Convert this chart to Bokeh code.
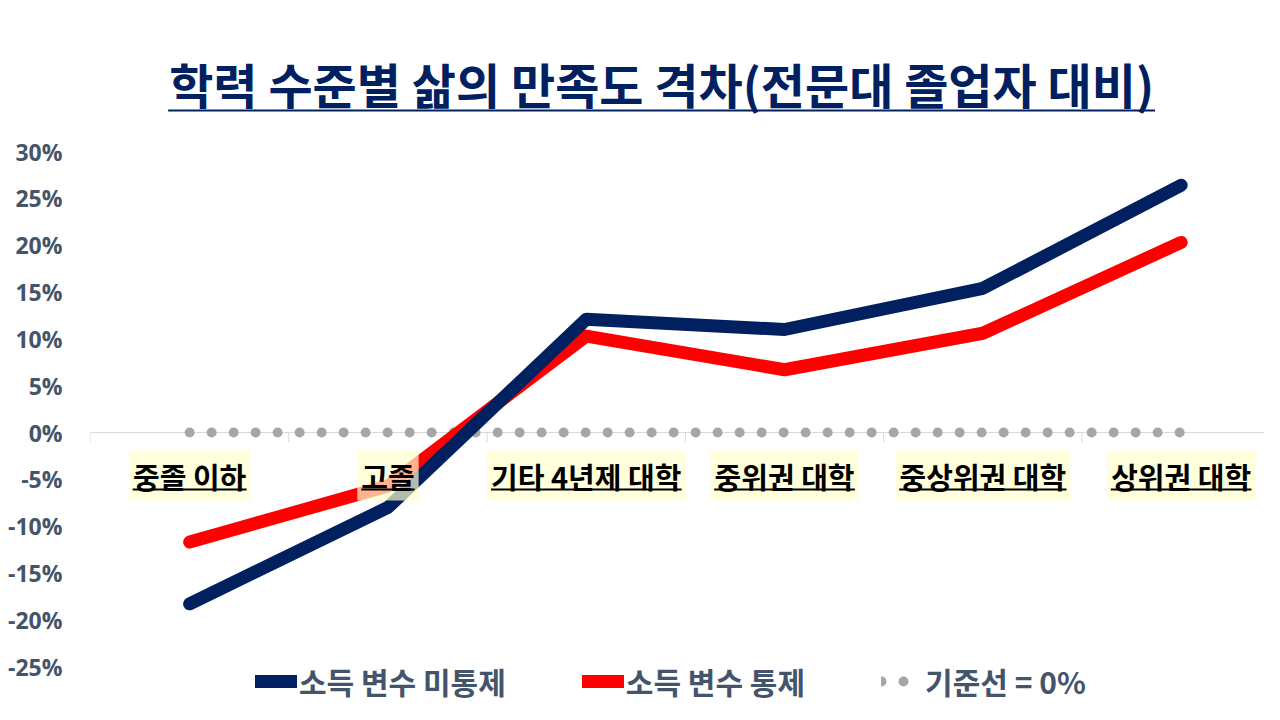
from bokeh.plotting import figure
from bokeh.models import (Range1d, FixedTicker, NumeralTickFormatter, Label,
                          Legend, LegendItem, ColumnDataSource)
from bokeh.embed import file_html
from bokeh.resources import INLINE

# ---- data ----
categories = ["중졸 이하", "고졸", "기타 4년제 대학", "중위권 대학", "중상위권 대학", "상위권 대학"]
uncontrolled = [-0.183, -0.080, 0.121, 0.110, 0.154, 0.264]
controlled = [-0.117, -0.057, 0.103, 0.067, 0.106, 0.203]
baseline = [0, 0, 0, 0, 0, 0]
y_ticks = [-0.25, -0.20, -0.15, -0.10, -0.05, 0.0, 0.05, 0.10, 0.15, 0.20, 0.25, 0.30]
title_text = "학력 수준별 삶의 만족도 격차(전문대 졸업자 대비)"
series_names = ["소득 변수 미통제", "소득 변수 통제", "기준선 = 0%"]

KFONT = "Noto Sans CJK KR"
NAVY = "#002060"
RED = "#ff0000"
GRAY = "#a6a6a6"
TICKC = "#44546a"

W, H = 1264, 704
ML = 90
px_x = 198.3               # pixels per category
XEND = (W - ML) / px_x
px_y = 515 / 0.55          # pixels per unit on the y scale
Y0 = 432                   # pixel row of the 0% line
YTOP = Y0 / px_y
YBOT = (Y0 - H) / px_y


def text_w(s, fs):
    w = 0.0
    for ch in s:
        if "\uac00" <= ch <= "\ud7a3":
            w += 0.92
        elif ch == " ":
            w += 0.25
        elif ch.isdigit():
            w += 0.55
        elif ch in "()":
            w += 0.33
        else:
            w += 0.6
    return w * fs


p = figure(width=W, height=H, output_backend="svg", toolbar_location=None,
           x_range=Range1d(0, XEND), y_range=Range1d(YBOT, YTOP),
           min_border_left=ML, min_border_right=0, min_border_top=0,
           min_border_bottom=0, outline_line_color=None)
p.xaxis.visible = False
p.grid.visible = False

yax = p.yaxis[0]
yax.ticker = FixedTicker(ticks=y_ticks)
yax.formatter = NumeralTickFormatter(format="0%")
yax.axis_line_color = None
yax.major_tick_line_color = None
yax.minor_tick_line_color = None
yax.major_label_standoff = 22
yax.major_label_text_font = "Open Sans"
yax.major_label_text_font_style = "bold"
yax.major_label_text_font_size = "23px"
yax.major_label_text_color = TICKC

xs = [i + 0.5 for i in range(len(categories))]

# zero axis line with category boundary ticks
p.line([0, XEND + 0.1], [0, 0], line_color="#d9d9d9", line_width=1)
bx = list(range(len(categories) + 1))
p.segment(x0=bx, y0=[0] * len(bx), x1=bx, y1=[-10 / px_y] * len(bx),
          line_color="#d9d9d9", line_width=1)

src = ColumnDataSource(dict(x=xs, a=uncontrolled, b=controlled, z=baseline))
r_base = p.line("x", "z", source=src, line_color=GRAY, line_width=10,
                line_dash="0 22", line_cap="round")
r_b = p.line("x", "b", source=src, line_color=RED, line_width=13,
             line_cap="round", line_join="round")
r_a = p.line("x", "a", source=src, line_color=NAVY, line_width=13,
             line_cap="round", line_join="round")

# category labels
LFS = 29
ly = -0.046
ux0, ux1, uy = [], [], []
for x, c in zip(xs, categories):
    p.add_layout(Label(x=x, y=ly, text=c, text_font=KFONT, text_font_style="bold",
                       text_font_size=f"{LFS}px", text_color="black",
                       text_align="center", text_baseline="middle",
                       background_fill_color="#ffffcc", background_fill_alpha=0.7,
                       padding=4))
    hw = text_w(c, LFS) / 2 / px_x
    ux0.append(x - hw)
    ux1.append(x + hw)
    uy.append(ly - 14 / px_y)
p.segment(x0=ux0, y0=uy, x1=ux1, y1=uy, line_color="black", line_width=2,
          level="overlay")

# title
TFS = 48
tx = 2.88
ty = (Y0 - 82) / px_y
p.add_layout(Label(x=tx, y=ty, text=title_text, text_font=KFONT, text_font_style="bold",
                   text_font_size=f"{TFS}px", text_color=NAVY,
                   text_align="center", text_baseline="middle"))
thw = text_w(title_text, TFS) / 2 / px_x
p.segment(x0=[tx - thw], y0=[ty - 28 / px_y], x1=[tx + thw], y1=[ty - 28 / px_y],
          line_color=NAVY, line_width=2)

legend = Legend(items=[LegendItem(label=series_names[0], renderers=[r_a]),
                       LegendItem(label=series_names[1], renderers=[r_b]),
                       LegendItem(label=series_names[2], renderers=[r_base])],
                orientation="horizontal", location=(165, 1),
                glyph_width=42, glyph_height=20, label_standoff=2, spacing=76,
                label_text_font=KFONT, label_text_font_style="bold",
                label_text_font_size="30px", label_text_color=TICKC,
                border_line_color=None, background_fill_alpha=0,
                padding=0, margin=0)
p.add_layout(legend, "center")

open("out.html", "w").write(file_html(p, INLINE))
